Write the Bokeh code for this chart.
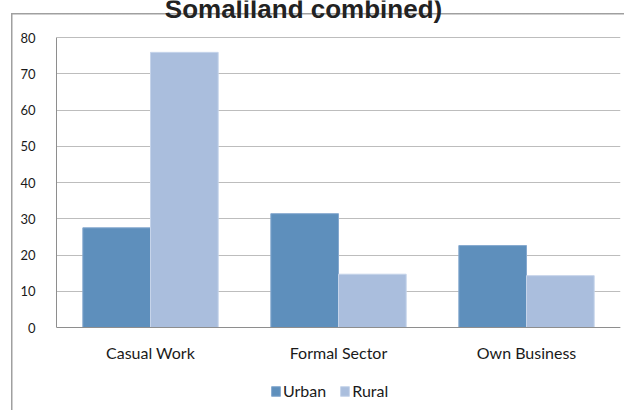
from bokeh.plotting import figure
from bokeh.models import FactorRange, Legend, LegendItem, Label, ColumnDataSource, FixedTicker, Range1d
from bokeh.transform import dodge
from bokeh.embed import file_html
from bokeh.resources import INLINE

categories = ["Casual Work", "Formal Sector", "Own Business"]
urban = [27.5, 31.4, 22.6]
rural = [75.9, 14.7, 14.3]
series_names = ["Urban", "Rural"]
y_ticks = [0, 10, 20, 30, 40, 50, 60, 70, 80]
y_max = 80
title_text = "Somaliland combined)"

# frame covers the whole canvas height; value axis occupies 290 px, zero line 327 px from top
frame_h = 410
axis_px = 290
zero_px = 327
px_per_unit = axis_px / y_max
source = ColumnDataSource(dict(cat=categories, urban=urban, rural=rural))

p = figure(x_range=FactorRange(*categories),
           y_range=Range1d(-(frame_h - zero_px) / px_per_unit, zero_px / px_per_unit),
           frame_width=564, frame_height=frame_h, output_backend="svg", toolbar_location=None,
           min_border_left=56, min_border_right=4, min_border_top=0, min_border_bottom=0)
p.outline_line_color = None
p.border_fill_color = None
p.background_fill_color = None
p.styles = {"background": "linear-gradient(#A0A0A0,#A0A0A0) 11px 13px / 1.5px 100% no-repeat, "
                          "linear-gradient(#A0A0A0,#A0A0A0) 11px 13px / 100% 1.5px no-repeat, white"}

r1 = p.vbar(x=dodge("cat", -0.18, range=p.x_range), top="urban", width=0.36, source=source,
            fill_color="#5E8FBC", line_color="#86A9CF", line_width=1)
r2 = p.vbar(x=dodge("cat", 0.18, range=p.x_range), top="rural", width=0.36, source=source,
            fill_color="#AABEDD", line_color="#C6D4EA", line_width=1)

p.xgrid.grid_line_color = None
p.ygrid.grid_line_color = "#BDBDBD"
p.ygrid.ticker = FixedTicker(ticks=y_ticks)
p.ygrid.bounds = (0, y_max)
p.yaxis.ticker = FixedTicker(ticks=y_ticks)
p.yaxis.bounds = (0, y_max)
p.xaxis.fixed_location = 0

for ax in (p.xaxis[0], p.yaxis[0]):
    ax.axis_line_color = "#8E8E8E"
    ax.major_tick_line_color = None
    ax.minor_tick_line_color = None
    ax.major_tick_out = 0
    ax.major_tick_in = 0
    ax.major_label_text_font = "Lato"
    ax.major_label_text_color = "#1a1a1a"
p.yaxis.major_label_text_font_size = "13px"
p.xaxis.major_label_text_font_size = "16px"
p.yaxis.major_label_standoff = 21
p.xaxis.major_label_standoff = 15

legend = Legend(items=[LegendItem(label=series_names[0], renderers=[r1]),
                       LegendItem(label=series_names[1], renderers=[r2])],
                orientation="horizontal", location=(214, 10))
legend.label_text_font = "Lato"
legend.label_text_font_size = "16px"
legend.label_text_color = "#1a1a1a"
legend.glyph_width = 11
legend.glyph_height = 12
legend.label_standoff = 2
legend.spacing = 13
legend.border_line_color = None
legend.background_fill_alpha = 0
legend.margin = 0
legend.padding = 0
p.add_layout(legend, "center")

title = Label(x=1.5, y=y_max, x_offset=-35, y_offset=29, text=title_text,
              text_font="Liberation Sans", text_font_style="bold", text_font_size="26px",
              text_color="#222222", text_align="center", text_baseline="alphabetic")
p.add_layout(title)

open("out.html", "w").write(file_html(p, INLINE))
